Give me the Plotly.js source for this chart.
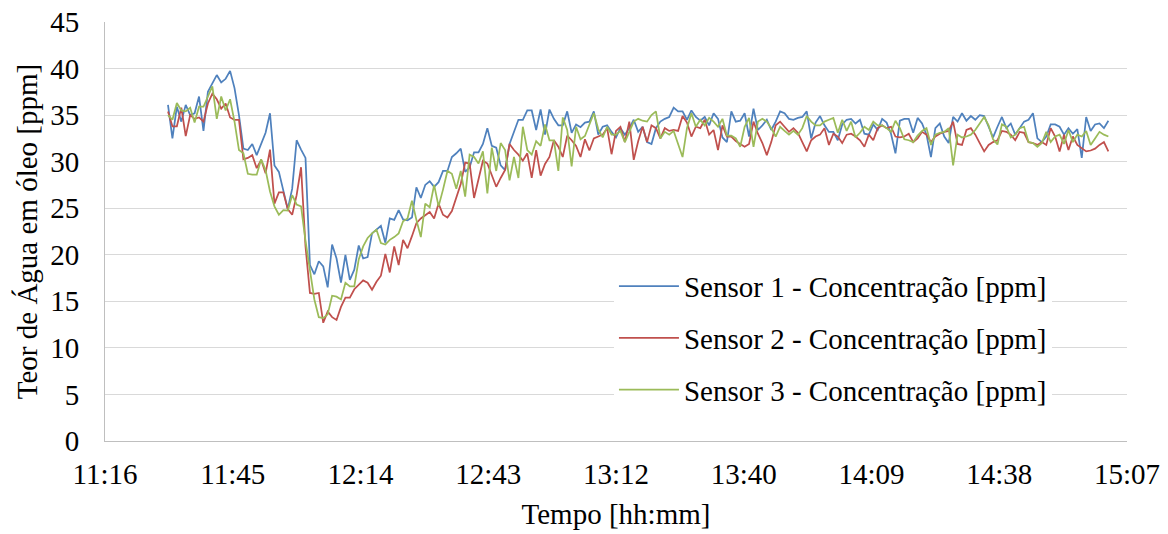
<!DOCTYPE html>
<html>
<head>
<meta charset="utf-8">
<script src="https://cdn.plot.ly/plotly-3.0.1.min.js"></script>
<style>
  html, body { margin: 0; padding: 0; background: #fff; }
  #chart { width: 1168px; height: 534px; }
</style>
</head>
<body>
<div id="chart"></div>
<script>
// Sampling grid (minutes since midnight), one reading per minute
const startMinute = 691;      // 11:31
const stepMinutes = 1;

const sensor1 = [
  36.1, 32.5, 35.9, 34.3, 36.1, 35.0, 35.2, 37.0, 33.3, 37.5,
  38.4, 39.3, 38.5, 38.9, 39.75, 37.9, 35.0, 31.4, 31.25, 31.9,
  30.7, 32.0, 33.1, 35.2, 29.6, 28.9, 27.0, 24.9, 27.1, 32.3,
  31.3, 30.4, 18.9, 17.9, 19.3, 18.75, 16.5, 21.1, 19.6, 17.0,
  20.0, 17.3, 18.4, 21.0, 19.6, 19.75, 22.3, 22.7, 23.1, 21.3,
  23.9, 23.75, 24.8, 23.8, 23.7, 24.0, 27.25, 26.1, 27.5, 27.9,
  27.3, 27.8, 29.0, 29.0, 30.5, 30.9, 31.4, 28.9, 29.4, 31.0,
  31.0, 31.9, 33.6, 31.7, 31.5, 29.6, 29.1, 31.9, 33.3, 34.5,
  34.5, 35.5, 35.5, 33.4, 35.6, 32.9, 35.6, 34.6, 33.9, 33.9,
  35.4, 33.1, 34.0, 33.7, 34.2, 34.3, 35.4, 32.9, 33.75, 33.9,
  33.2, 32.6, 33.6, 32.9, 33.6, 34.5, 33.2, 33.75, 32.1, 31.9,
  33.6, 34.3, 34.6, 34.8, 35.8, 35.4, 35.4, 34.5, 35.5, 34.8,
  34.4, 34.8, 33.9, 35.2, 34.6, 32.6, 32.1, 35.4, 34.3, 34.4,
  35.2, 32.7, 35.7, 33.4, 33.9, 34.5, 33.4, 34.3, 35.4, 35.2,
  34.6, 34.5, 34.7, 34.8, 35.4, 32.5, 34.2, 34.9, 33.9, 33.2,
  33.2, 32.3, 34.0, 34.5, 34.6, 34.1, 34.5, 33.0, 32.9, 34.0,
  33.4, 34.6, 34.2, 33.0, 30.9, 34.4, 34.6, 34.6, 33.1, 34.7,
  34.1, 32.9, 30.5, 33.6, 34.1, 32.7, 32.0, 34.8, 34.3, 35.2,
  34.4, 34.9, 34.5, 35.0, 34.9, 33.75, 32.6, 33.75, 34.8, 33.6,
  34.1, 32.9, 33.6, 34.3, 34.5, 35.2, 32.5, 32.1, 32.7, 34.0,
  34.0, 33.75, 32.9, 33.6, 33.0, 33.5, 30.4, 34.8, 33.3, 34.0,
  34.1, 33.6, 34.4
];

const sensor2 = [
  35.4, 33.8, 33.8, 35.8, 32.75, 35.0, 34.6, 34.75, 34.3, 36.25,
  37.3, 36.7, 35.7, 36.25, 34.75, 34.5, 34.5, 30.25, 30.4, 30.7,
  29.3, 30.2, 28.75, 31.3, 25.5, 26.7, 26.7, 24.9, 24.3, 26.4,
  29.4, 20.9, 15.9, 15.8, 15.9, 12.7, 13.9, 13.3, 13.0, 14.4,
  15.4, 15.4, 16.3, 16.8, 17.25, 17.0, 16.25, 17.1, 17.75, 20.1,
  18.1, 20.9, 18.9, 21.6, 20.7, 22.0, 23.4, 23.9, 24.3, 24.6,
  23.9, 25.5, 24.3, 24.0, 24.7, 26.25, 27.6, 29.9, 29.8, 26.1,
  28.25, 30.1, 29.8, 28.6, 27.3, 28.25, 29.1, 31.9, 31.25, 30.75,
  30.1, 30.9, 28.25, 31.25, 28.5, 29.75, 30.5, 32.3, 31.6, 30.5,
  32.8, 32.3, 31.7, 30.5, 32.4, 31.2, 32.5, 32.7, 32.9, 33.6,
  30.8, 33.3, 33.75, 32.1, 34.3, 30.2, 32.2, 33.75, 32.1, 33.9,
  33.6, 32.5, 33.6, 33.3, 33.4, 33.3, 34.9, 34.2, 32.7, 33.75,
  33.6, 34.5, 32.9, 33.4, 31.25, 33.9, 32.7, 32.7, 32.2, 31.9,
  31.6, 31.9, 34.3, 33.0, 32.0, 30.7, 32.1, 33.9, 34.3, 33.75,
  33.2, 33.6, 33.1, 32.1, 31.1, 32.3, 32.7, 32.9, 33.6, 31.8,
  33.0, 32.7, 32.0, 32.9, 33.0, 32.7, 32.3, 31.6, 32.9, 32.3,
  33.6, 33.9, 33.6, 33.75, 32.7, 32.6, 32.7, 33.0, 32.1, 32.5,
  33.2, 32.9, 32.1, 32.7, 33.0, 33.2, 33.3, 34.3, 31.9, 31.8,
  33.4, 33.6, 32.9, 32.0, 31.1, 31.8, 32.1, 32.3, 33.3, 33.2,
  32.9, 32.3, 33.2, 33.1, 32.1, 32.0, 31.8, 32.1, 31.8, 33.6,
  32.7, 31.1, 32.9, 31.25, 32.7, 31.8, 31.4, 31.1, 31.2, 31.4,
  31.8, 32.1, 31.1
];

const sensor3 = [
  35.0, 34.5, 36.3, 35.5, 35.4, 35.8, 34.2, 35.9, 35.9, 37.0,
  38.1, 34.6, 37.0, 35.5, 36.7, 34.3, 31.25, 30.9, 28.7, 28.6,
  28.6, 30.25, 29.1, 26.8, 25.2, 24.3, 24.8, 24.75, 26.4, 25.4,
  25.2, 21.5, 18.2, 15.2, 13.3, 13.2, 13.6, 15.6, 15.5, 15.2,
  17.0, 16.6, 16.6, 19.5, 20.9, 21.8, 22.3, 22.7, 21.25, 21.1,
  21.6, 21.9, 22.3, 23.6, 23.9, 25.8, 23.75, 21.9, 25.5, 25.1,
  27.5, 25.2, 27.0, 29.0, 28.7, 27.1, 29.0, 26.25, 30.75, 30.5,
  29.8, 31.1, 26.6, 31.5, 29.0, 32.0, 31.25, 28.0, 30.5, 28.25,
  33.75, 31.25, 30.75, 32.2, 31.7, 34.0, 32.3, 32.3, 29.0, 34.75,
  33.4, 29.5, 33.75, 32.4, 32.75, 33.9, 35.2, 33.5, 32.6, 33.75,
  32.9, 32.9, 33.3, 32.1, 33.2, 34.3, 34.6, 34.4, 34.3, 35.0,
  35.4, 32.5, 33.2, 32.9, 33.3, 31.9, 30.5, 33.6, 35.2, 33.75,
  34.5, 33.9, 34.7, 34.3, 33.75, 34.6, 32.8, 32.8, 32.5, 31.6,
  33.75, 34.7, 31.6, 34.3, 34.6, 34.3, 33.6, 32.7, 33.75, 33.3,
  32.9, 33.3, 32.9, 33.6, 34.9, 34.3, 33.9, 33.9, 34.3, 34.5,
  34.7, 33.1, 34.5, 33.3, 34.3, 32.6, 33.1, 33.75, 33.4, 34.3,
  33.9, 33.9, 33.6, 33.2, 34.4, 33.6, 32.4, 32.3, 32.1, 32.8,
  33.3, 33.6, 31.8, 32.9, 33.1, 33.2, 33.6, 29.6, 32.9, 32.6,
  32.7, 32.9, 33.4, 34.1, 34.8, 33.9, 32.4, 31.85, 34.0, 33.75,
  32.6, 32.9, 33.6, 33.75, 32.1, 32.0, 31.6, 32.0, 33.2, 32.1,
  32.7, 32.9, 31.9, 33.4, 32.1, 32.9, 32.7, 33.3, 31.8, 32.5,
  33.2, 32.9, 32.7
];

const seriesNames = [
  'Sensor 1 - Concentração [ppm]',
  'Sensor 2 - Concentração [ppm]',
  'Sensor 3 - Concentração [ppm]'
];
const seriesColors = ['#4F81BD', '#C0504D', '#9BBB59'];

// X axis: Excel time axis from 0.47 to 0.63 day, major unit 0.02 day (28.8 min)
const axisStartMinute = 676.8;
const axisEndMinute = 907.2;
const majorUnitMinutes = 28.8;
const xTickLabels = ['11:16', '11:45', '12:14', '12:43', '13:12', '13:40', '14:09', '14:38', '15:07'];
const yTickValues = [0, 5, 10, 15, 20, 25, 30, 35, 40, 45];

const times = sensor1.map((_, i) => startMinute + i * stepMinutes);
const xTickVals = xTickLabels.map((_, k) => axisStartMinute + k * majorUnitMinutes);

const FONT = '"Liberation Serif", "Times New Roman", serif';
const FS = 29;

const traces = [sensor1, sensor2, sensor3].map((vals, k) => ({
  type: 'scatter',
  mode: 'lines',
  x: times,
  y: vals,
  name: seriesNames[k],
  legendgroup: 'g' + k,
  line: { color: seriesColors[k], width: 1.75 }
}));

const layout = {
  width: 1168,
  height: 534,
  margin: { l: 105, r: 41, t: 22, b: 93 },
  paper_bgcolor: '#fff',
  plot_bgcolor: '#fff',
  font: { family: FONT, size: FS, color: '#000' },
  showlegend: true,
  legend: {
    x: 0.498, xanchor: 'left',
    y: 0.43, yanchor: 'top',
    bgcolor: '#fff',
    borderwidth: 0,
    font: { family: FONT, size: FS, color: '#000' },
    traceorder: 'grouped',
    tracegroupgap: 11,
    itemwidth: 60
  },
  xaxis: {
    range: [axisStartMinute, axisEndMinute],
    tickmode: 'array',
    tickvals: xTickVals,
    ticktext: xTickLabels,
    showgrid: false,
    zeroline: false,
    showline: true,
    linecolor: '#BFBFBF',
    linewidth: 1,
    ticks: '',
    ticklabelstandoff: 7,
    tickfont: { family: FONT, size: FS, color: '#000' },
    title: { text: 'Tempo [hh:mm]', font: { family: FONT, size: FS, color: '#000' }, standoff: 14 },
    automargin: false
  },
  yaxis: {
    range: [0, 45],
    tickmode: 'array',
    tickvals: yTickValues,
    showgrid: true,
    gridcolor: '#D9D9D9',
    gridwidth: 1,
    zeroline: false,
    showline: true,
    linecolor: '#BFBFBF',
    linewidth: 1,
    ticks: '',
    ticklabelstandoff: 19,
    tickfont: { family: FONT, size: FS, color: '#000' },
    title: { text: 'Teor de Água em óleo [ppm]', font: { family: FONT, size: FS, color: '#000' }, standoff: 4 },
    automargin: false
  }
};

Plotly.newPlot('chart', traces, layout, { displayModeBar: false, staticPlot: true });
</script>
</body>
</html>
